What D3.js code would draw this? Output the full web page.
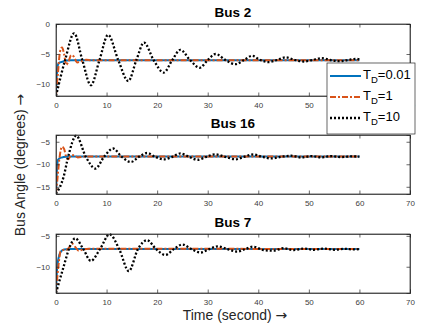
<!DOCTYPE html>
<html><head><meta charset="utf-8">
<script src="https://cdn.jsdelivr.net/npm/d3@7"></script>
<style>body{margin:0;background:#fff}svg{display:block}</style>
</head><body>
<svg id="chart" width="429" height="330"></svg>
<script>
// ---------------- DATA ----------------
const xTicks = [0, 10, 20, 30, 40, 50, 60, 70];
const titles = ["Bus 2", "Bus 16", "Bus 7"];
const seriesNames = ["0.01", "1", "10"];

// Bus 2
const bus2_time_td001 = [0, 0.15, 0.5, 1.0, 1.6, 2.2, 3, 60];
const bus2_td001      = [-12, -8.5, -6.55, -6.35, -6.2, -6.1, -6.05, -6.05];
const bus2_time_td1   = [0, 0.4, 0.8, 1.2, 1.6, 2.0, 2.5, 3.0, 3.5, 4.2, 5, 6, 7, 60];
const bus2_td1        = [-12, -8, -4.6, -3.9, -5.0, -6.8, -6.2, -5.2, -5.4, -6.4, -6.2, -5.95, -6.05, -6.05];
const bus2_time_td10  = [0, 1.8, 3.6, 5.2, 6.9, 8.6, 10.3, 12.3, 14.3, 15.9, 17.4, 19.3, 21.3, 23, 24.6, 26.5, 28.4, 30, 31.6, 33.5, 35.5, 37.2, 38.8, 40.4, 42, 43.7, 45.4, 47.2, 49, 50.7, 52.5, 54.2, 56, 57.8, 59.3, 60];
const bus2_td10       = [-12, -6, -1.55, -6, -10.2, -6, -1.8, -6, -9.5, -6, -3.1, -6, -8.1, -6, -4.3, -6, -7.3, -6, -5.0, -6, -6.7, -6, -5.3, -6, -6.35, -6, -5.55, -6, -6.25, -6, -5.7, -6, -6.2, -6, -5.8, -5.9];

// Bus 16
const bus16_time_td001 = [0, 0.15, 0.4, 0.8, 1.5, 2.5, 60];
const bus16_td001      = [-16.5, -12, -9.0, -8.6, -8.4, -8.3, -8.3];
const bus16_time_td1   = [0, 0.3, 0.7, 1.2, 1.6, 2.0, 2.4, 3.0, 3.6, 4.3, 5.5, 60];
const bus16_td1        = [-16.5, -13, -8.5, -6.1, -6.6, -8.3, -8.9, -8.0, -8.0, -8.5, -8.3, -8.3];
const bus16_time_td10  = [0, 1.5, 2.4, 4, 5.9, 7.8, 9.5, 11.3, 13, 14.8, 16.4, 18, 19.6, 21.3, 23, 24.6, 26.3, 28, 29.7, 31.5, 33.5, 35.5, 37.2, 39, 40.8, 42.5, 44.5, 46.5, 48.5, 50.5, 52.5, 54.5, 56.5, 58.5, 60];
const bus16_td10       = [-16.5, -12.8, -8.35, -3.65, -8.35, -10.95, -8.35, -6.5, -8.35, -9.5, -8.35, -7.5, -8.35, -8.9, -8.35, -7.6, -8.35, -9.0, -8.35, -7.8, -8.35, -8.9, -8.35, -7.8, -8.35, -8.7, -8.35, -8.1, -8.5, -8.2, -8.45, -8.2, -8.4, -8.25, -8.3];

// Bus 7
const bus7_time_td001 = [0, 0.2, 0.5, 1.0, 1.6, 2.5, 60];
const bus7_td001      = [-14.25, -10.5, -8.6, -7.5, -7.2, -7.12, -7.12];
const bus7_time_td1   = [0, 0.3, 0.6, 0.9, 1.4, 2.0, 2.7, 3.3, 3.9, 4.5, 5.3, 6.5, 60];
const bus7_td1        = [-14.25, -11.3, -9, -7.5, -7.3, -7.3, -6.8, -6.3, -6.9, -7.4, -7.2, -7.1, -7.12];
const bus7_time_td10  = [0, 1.5, 2.8, 3.8, 5.4, 6.9, 8.7, 10.6, 12.5, 14.4, 16.2, 18, 19.8, 21.6, 23.3, 25, 26.8, 28.6, 30.3, 32, 33.9, 35.8, 37.4, 39, 41, 43, 45, 47, 49, 51, 53, 55, 57, 59, 60];
const bus7_td10       = [-14.25, -10, -6.6, -5.4, -7.15, -9.05, -7.15, -4.75, -7.15, -10.7, -7.15, -5.7, -7.15, -8.1, -7.15, -6.4, -7.15, -7.7, -7.15, -6.7, -7.15, -7.55, -7.15, -6.75, -7.3, -7.4, -7.0, -7.3, -7.05, -7.25, -7.05, -7.25, -7.1, -7.2, -7.15];

const yDomains = [[-12, 0], [-16.6, -3.5], [-14.25, -4.7]];
const yTicksList = [[-10, -5, 0], [-15, -10, -5], [-10, -5]];

// ---------------- LAYOUT ----------------
const svg = d3.select("#chart");
const left = 56, right = 410;
const panelBox = [{top: 24, bottom: 96}, {top: 135, bottom: 194}, {top: 234, bottom: 293}];
const colors = ["#0072BD", "#D95319", "#000000"];
const dashes = [null, "6,2,2,2", "2,2"];
const widths = [2, 2, 2.3];
const font = "'Liberation Sans', Arial, Helvetica, sans-serif";
const arrowFont = "'DejaVu Sans', sans-serif";
const axisColor = "#262626";

const panelsData = [
  [[bus2_time_td001, bus2_td001], [bus2_time_td1, bus2_td1], [bus2_time_td10, bus2_td10]],
  [[bus16_time_td001, bus16_td001], [bus16_time_td1, bus16_td1], [bus16_time_td10, bus16_td10]],
  [[bus7_time_td001, bus7_td001], [bus7_time_td1, bus7_td1], [bus7_time_td10, bus7_td10]]
];

const x = d3.scaleLinear().domain([0, 70]).range([left, right]);

panelsData.forEach((series, i) => {
  const b = panelBox[i];
  const y = d3.scaleLinear().domain(yDomains[i]).range([b.bottom, b.top]);
  const g = svg.append("g");
  g.append("rect").attr("x", left).attr("y", b.top).attr("width", right - left)
    .attr("height", b.bottom - b.top).attr("fill", "#fff");

  const clipId = "clip" + i;
  svg.append("clipPath").attr("id", clipId).append("rect")
    .attr("x", left).attr("y", b.top - 1).attr("width", right - left).attr("height", b.bottom - b.top + 2);

  const line = d3.line().x(d => x(d[0])).y(d => y(d[1])).curve(d3.curveMonotoneX);
  const lg = g.append("g").attr("clip-path", `url(#${clipId})`);
  series.forEach((s, k) => {
    const pts = s[0].map((t, j) => [t, s[1][j]]);
    lg.append("path").datum(pts).attr("d", line)
      .attr("fill", "none").attr("stroke", colors[k]).attr("stroke-width", widths[k])
      .attr("stroke-dasharray", dashes[k]).attr("stroke-linejoin", "round");
  });

  // axes
  const tl = 3.5;
  const xb = g.append("g").attr("transform", `translate(0,${b.bottom})`)
    .call(d3.axisBottom(x).tickValues(xTicks).tickSize(-tl).tickPadding(6).tickFormat(d3.format("d")));
  const xt = g.append("g").attr("transform", `translate(0,${b.top})`)
    .call(d3.axisTop(x).tickValues(xTicks).tickSize(-tl).tickFormat(""));
  const yl = g.append("g").attr("transform", `translate(${left},0)`)
    .call(d3.axisLeft(y).tickValues(yTicksList[i]).tickSize(-tl).tickPadding(6).tickFormat(d3.format("d")));
  const yr = g.append("g").attr("transform", `translate(${right},0)`)
    .call(d3.axisRight(y).tickValues(yTicksList[i]).tickSize(-tl).tickFormat(""));
  [xb, xt, yl, yr].forEach(a => {
    a.select(".domain").attr("stroke", axisColor).attr("stroke-width", 0.7);
    a.selectAll(".tick line").attr("stroke", axisColor).attr("stroke-width", 0.7);
    a.selectAll(".tick text").attr("fill", "#404040").style("font-family", font).style("font-size", "8px");
  });
  g.append("rect").attr("x", left).attr("y", b.top).attr("width", right - left)
    .attr("height", b.bottom - b.top).attr("fill", "none").attr("stroke", axisColor).attr("stroke-width", 0.7);

  g.append("text").attr("x", (left + right) / 2).attr("y", b.top - 7)
    .attr("text-anchor", "middle").style("font-family", font).style("font-size", "13.5px")
    .style("font-weight", "bold").attr("fill", "#000").text(titles[i]);
});

// axis labels
const xl = svg.append("text").attr("x", 235).attr("y", 320).attr("text-anchor", "middle")
  .style("font-family", font).style("font-size", "14px").attr("fill", "#262626");
xl.append("tspan").text("Time (second) ");
xl.append("tspan").style("font-family", arrowFont).text("\u2192");
const ylb = svg.append("text").attr("transform", "translate(25,165) rotate(-90)").attr("text-anchor", "middle")
  .style("font-family", font).style("font-size", "14px").attr("fill", "#262626");
ylb.append("tspan").text("Bus Angle (degrees) ");
ylb.append("tspan").style("font-family", arrowFont).text("\u2192");

// legend
const lgX = 327, lgY = 63, lgW = 88, lgH = 71;
const leg = svg.append("g");
leg.append("rect").attr("x", lgX).attr("y", lgY).attr("width", lgW).attr("height", lgH)
  .attr("fill", "#fff").attr("stroke", axisColor).attr("stroke-width", 0.7);
seriesNames.forEach((name, k) => {
  const yy = lgY + 13 + k * 21;
  leg.append("line").attr("x1", lgX + 3).attr("x2", lgX + 34).attr("y1", yy).attr("y2", yy)
    .attr("stroke", colors[k]).attr("stroke-width", widths[k]).attr("stroke-dasharray", dashes[k]);
  const t = leg.append("text").attr("x", lgX + 36).attr("y", yy + 3)
    .style("font-family", font).style("font-size", "13px").attr("fill", "#000");
  t.append("tspan").text("T");
  t.append("tspan").attr("dy", 4).style("font-size", "9.5px").text("D");
  t.append("tspan").attr("dy", -4).text("=" + name);
});
</script>
</body></html>
